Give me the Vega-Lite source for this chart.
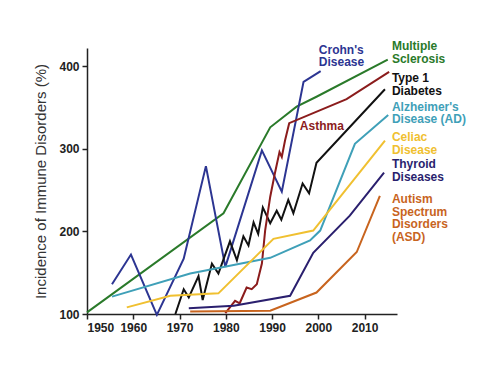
{
  "$schema": "https://vega.github.io/schema/vega-lite/v6.json",
  "width": 310,
  "height": 266,
  "autosize": {"type": "none"},
  "padding": {"left": 87, "top": 48, "right": 83, "bottom": 70},
  "background": "white",
  "config": {"view": {"stroke": null}, "font": "Liberation Sans"},
  "datasets": {
    "lines": [
      {"s": "Multiple Sclerosis", "year": 1950, "v": 102},
      {"s": "Multiple Sclerosis", "year": 1979.5, "v": 222},
      {"s": "Multiple Sclerosis", "year": 1989.6, "v": 326},
      {"s": "Multiple Sclerosis", "year": 1995.3, "v": 351},
      {"s": "Multiple Sclerosis", "year": 1999.6, "v": 363},
      {"s": "Multiple Sclerosis", "year": 2015, "v": 408},
      {"s": "Crohn's Disease", "year": 1955.4, "v": 136},
      {"s": "Crohn's Disease", "year": 1959.5, "v": 172},
      {"s": "Crohn's Disease", "year": 1965.1, "v": 99},
      {"s": "Crohn's Disease", "year": 1970.9, "v": 167},
      {"s": "Crohn's Disease", "year": 1975.7, "v": 279},
      {"s": "Crohn's Disease", "year": 1979.9, "v": 157},
      {"s": "Crohn's Disease", "year": 1987.8, "v": 298},
      {"s": "Crohn's Disease", "year": 1992.1, "v": 248},
      {"s": "Crohn's Disease", "year": 1996.8, "v": 381},
      {"s": "Crohn's Disease", "year": 2000.5, "v": 394},
      {"s": "Type 1 Diabetes", "year": 1969.1, "v": 100},
      {"s": "Type 1 Diabetes", "year": 1970.9, "v": 130},
      {"s": "Type 1 Diabetes", "year": 1972, "v": 120},
      {"s": "Type 1 Diabetes", "year": 1974.1, "v": 146},
      {"s": "Type 1 Diabetes", "year": 1975, "v": 117},
      {"s": "Type 1 Diabetes", "year": 1977, "v": 161},
      {"s": "Type 1 Diabetes", "year": 1978.4, "v": 149},
      {"s": "Type 1 Diabetes", "year": 1980.9, "v": 188},
      {"s": "Type 1 Diabetes", "year": 1982.4, "v": 165},
      {"s": "Type 1 Diabetes", "year": 1983.8, "v": 194},
      {"s": "Type 1 Diabetes", "year": 1984.9, "v": 183},
      {"s": "Type 1 Diabetes", "year": 1986, "v": 211},
      {"s": "Type 1 Diabetes", "year": 1987, "v": 197},
      {"s": "Type 1 Diabetes", "year": 1988, "v": 229},
      {"s": "Type 1 Diabetes", "year": 1989.6, "v": 210},
      {"s": "Type 1 Diabetes", "year": 1991, "v": 225},
      {"s": "Type 1 Diabetes", "year": 1992, "v": 214},
      {"s": "Type 1 Diabetes", "year": 1993.5, "v": 238},
      {"s": "Type 1 Diabetes", "year": 1994.6, "v": 222},
      {"s": "Type 1 Diabetes", "year": 1996.6, "v": 258},
      {"s": "Type 1 Diabetes", "year": 1998, "v": 246},
      {"s": "Type 1 Diabetes", "year": 1999.6, "v": 283},
      {"s": "Type 1 Diabetes", "year": 2014.4, "v": 372},
      {"s": "Asthma", "year": 1979.9, "v": 101},
      {"s": "Asthma", "year": 1982, "v": 116},
      {"s": "Asthma", "year": 1983, "v": 113},
      {"s": "Asthma", "year": 1984.5, "v": 132},
      {"s": "Asthma", "year": 1985.6, "v": 130},
      {"s": "Asthma", "year": 1986.7, "v": 136},
      {"s": "Asthma", "year": 1987.8, "v": 161},
      {"s": "Asthma", "year": 1988.5, "v": 201},
      {"s": "Asthma", "year": 1989.6, "v": 242},
      {"s": "Asthma", "year": 1990.6, "v": 270},
      {"s": "Asthma", "year": 1991.6, "v": 296},
      {"s": "Asthma", "year": 1992.1, "v": 290},
      {"s": "Asthma", "year": 1992.8, "v": 310},
      {"s": "Asthma", "year": 1993.7, "v": 331},
      {"s": "Asthma", "year": 2006.1, "v": 360},
      {"s": "Asthma", "year": 2015.3, "v": 393},
      {"s": "Alzheimer's Disease (AD)", "year": 1955.4, "v": 121},
      {"s": "Alzheimer's Disease (AD)", "year": 1972.3, "v": 149},
      {"s": "Alzheimer's Disease (AD)", "year": 1979.5, "v": 157},
      {"s": "Alzheimer's Disease (AD)", "year": 1989.6, "v": 168},
      {"s": "Alzheimer's Disease (AD)", "year": 1998.2, "v": 189},
      {"s": "Alzheimer's Disease (AD)", "year": 2000.4, "v": 201},
      {"s": "Alzheimer's Disease (AD)", "year": 2007.9, "v": 306},
      {"s": "Alzheimer's Disease (AD)", "year": 2015.1, "v": 341},
      {"s": "Celiac Disease", "year": 1958.6, "v": 108},
      {"s": "Celiac Disease", "year": 1968, "v": 122},
      {"s": "Celiac Disease", "year": 1978.4, "v": 125},
      {"s": "Celiac Disease", "year": 1990.3, "v": 191},
      {"s": "Celiac Disease", "year": 1998.9, "v": 201},
      {"s": "Celiac Disease", "year": 2014.4, "v": 310},
      {"s": "Thyroid Diseases", "year": 1972, "v": 107},
      {"s": "Thyroid Diseases", "year": 1981.7, "v": 110},
      {"s": "Thyroid Diseases", "year": 1993.9, "v": 122},
      {"s": "Thyroid Diseases", "year": 1998.9, "v": 174},
      {"s": "Thyroid Diseases", "year": 2006.8, "v": 219},
      {"s": "Thyroid Diseases", "year": 2014.2, "v": 271},
      {"s": "Autism Spectrum Disorders (ASD)", "year": 1972.3, "v": 103},
      {"s": "Autism Spectrum Disorders (ASD)", "year": 1989.6, "v": 104},
      {"s": "Autism Spectrum Disorders (ASD)", "year": 1999.6, "v": 126},
      {"s": "Autism Spectrum Disorders (ASD)", "year": 2008.3, "v": 175},
      {"s": "Autism Spectrum Disorders (ASD)", "year": 2013.3, "v": 243}
    ],
    "labels": [
      {"s": "Crohn's Disease", "t": "Crohn's", "year": 2000.1, "v": 420},
      {"s": "Crohn's Disease", "t": "Disease", "year": 2000.1, "v": 404.5},
      {"s": "Multiple Sclerosis", "t": "Multiple", "year": 2015.9, "v": 424.4},
      {"s": "Multiple Sclerosis", "t": "Sclerosis", "year": 2015.9, "v": 409},
      {"s": "Type 1 Diabetes", "t": "Type 1", "year": 2015.9, "v": 386},
      {"s": "Type 1 Diabetes", "t": "Diabetes", "year": 2015.9, "v": 370.5},
      {"s": "Alzheimer's Disease (AD)", "t": "Alzheimer's", "year": 2015.9, "v": 351},
      {"s": "Alzheimer's Disease (AD)", "t": "Disease (AD)", "year": 2015.9, "v": 335.5},
      {"s": "Celiac Disease", "t": "Celiac", "year": 2015.9, "v": 314.5},
      {"s": "Celiac Disease", "t": "Disease", "year": 2015.9, "v": 299},
      {"s": "Thyroid Diseases", "t": "Thyroid", "year": 2015.9, "v": 281},
      {"s": "Thyroid Diseases", "t": "Diseases", "year": 2015.9, "v": 265.5},
      {"s": "Autism Spectrum Disorders (ASD)", "t": "Autism", "year": 2015.9, "v": 239.5},
      {"s": "Autism Spectrum Disorders (ASD)", "t": "Spectrum", "year": 2015.9, "v": 224},
      {"s": "Autism Spectrum Disorders (ASD)", "t": "Disorders", "year": 2015.9, "v": 208.5},
      {"s": "Autism Spectrum Disorders (ASD)", "t": "(ASD)", "year": 2015.9, "v": 193},
      {"s": "Asthma", "t": "Asthma", "year": 1996.0, "v": 327.6}
    ]
  },
  "encoding": {
    "x": {
      "field": "year", "type": "quantitative",
      "scale": {"domain": [1950, 2017], "nice": false, "zero": false},
      "axis": {
        "values": [1950, 1960, 1970, 1980, 1990, 2000, 2010],
        "format": "d", "title": null, "grid": false,
        "labelFontSize": 12, "labelFontWeight": "bold", "labelColor": "#222",
        "tickColor": "#222", "tickSize": 5, "tickWidth": 1.5,
        "domainColor": "#222", "domainWidth": 1.5, "labelPadding": 3
      }
    },
    "y": {
      "field": "v", "type": "quantitative",
      "scale": {"domain": [100, 422], "nice": false, "zero": false},
      "axis": {
        "values": [100, 200, 300, 400],
        "title": "Incidence of Immune Disorders (%)",
        "titleFontSize": 15, "titleFontWeight": "normal", "titleColor": "#333",
        "titlePadding": 10, "grid": false,
        "labelFontSize": 12, "labelFontWeight": "bold", "labelColor": "#222",
        "tickColor": "#222", "tickSize": 5, "tickWidth": 1.5,
        "domainColor": "#222", "domainWidth": 1.5, "labelPadding": 3
      }
    },
    "color": {
      "field": "s", "type": "nominal", "legend": null,
      "scale": {
        "domain": ["Multiple Sclerosis", "Crohn's Disease", "Type 1 Diabetes", "Asthma", "Alzheimer's Disease (AD)", "Celiac Disease", "Thyroid Diseases", "Autism Spectrum Disorders (ASD)"],
        "range": ["#2a7a2a", "#2c3592", "#111111", "#8b1c1c", "#3fa0b8", "#f0c030", "#2a1f6e", "#c8641e"]
      }
    }
  },
  "layer": [
    {
      "data": {"name": "lines"},
      "mark": {"type": "line", "strokeWidth": 2}
    },
    {
      "data": {"name": "labels"},
      "mark": {"type": "text", "align": "left", "baseline": "middle", "fontSize": 12, "fontWeight": "bold"},
      "encoding": {"text": {"field": "t"}}
    }
  ]
}
